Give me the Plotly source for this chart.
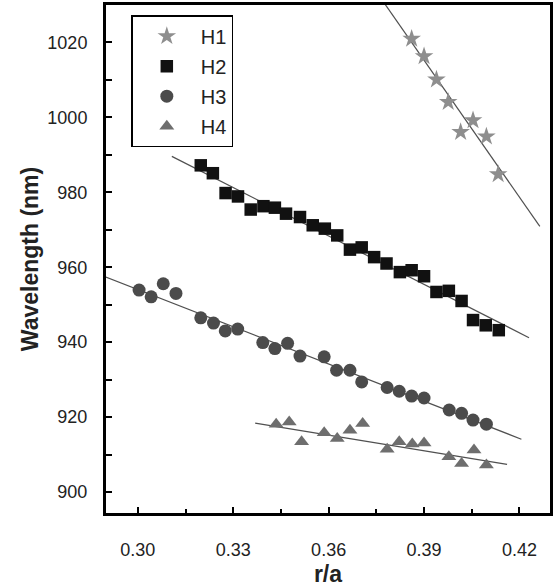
import plotly.graph_objects as go

# --- data ---
h1_x = [0.3861, 0.3900, 0.3939, 0.3976, 0.4015, 0.4054, 0.4096, 0.4133]
h1_y = [1021.0, 1016.3, 1010.1, 1004.1, 996.1, 999.2, 994.9, 984.8]

h2_x = [0.3198, 0.3236, 0.3276, 0.3315, 0.3355, 0.3395, 0.3431, 0.3466, 0.3510,
        0.3550, 0.3588, 0.3627, 0.3667, 0.3704, 0.3743, 0.3782, 0.3824, 0.3861,
        0.3900, 0.3939, 0.3978, 0.4018, 0.4054, 0.4094, 0.4135]
h2_y = [987.2, 985.1, 979.8, 978.9, 975.4, 976.3, 975.9, 974.3, 973.4,
        971.2, 970.3, 968.5, 964.7, 965.3, 962.7, 961.0, 958.7, 959.2,
        957.6, 953.4, 953.7, 951.0, 945.9, 944.5, 943.2]

h3_x = [0.3004, 0.3042, 0.3080, 0.3120, 0.3198, 0.3238, 0.3275, 0.3314, 0.3393,
        0.3431, 0.3471, 0.3510, 0.3586, 0.3625, 0.3667, 0.3704, 0.3784, 0.3822,
        0.3861, 0.3900, 0.3979, 0.4018, 0.4054, 0.4096]
h3_y = [953.9, 952.1, 955.6, 953.0, 946.5, 945.1, 943.0, 943.5, 939.9,
        938.3, 939.7, 936.3, 936.1, 932.5, 932.5, 929.4, 927.9, 926.9,
        925.6, 925.1, 921.9, 921.0, 919.2, 918.1]

h4_x = [0.3435, 0.3476, 0.3515, 0.3586, 0.3627, 0.3667, 0.3707, 0.3784,
        0.3822, 0.3863, 0.3900, 0.3978, 0.4018, 0.4057, 0.4096]
h4_y = [918.1, 918.7, 913.4, 915.8, 914.3, 916.5, 918.3, 911.4,
        913.4, 912.8, 913.1, 909.4, 907.6, 911.2, 907.2]

# linear fit lines (end points)
h1_fit_x = [0.3775, 0.4264]
h1_fit_y = [1030.5, 970.9]
h2_fit_x = [0.3107, 0.4230]
h2_fit_y = [989.6, 941.2]
h3_fit_x = [0.2898, 0.4206]
h3_fit_y = [957.4, 914.1]
h4_fit_x = [0.3369, 0.4161]
h4_fit_y = [918.4, 907.4]

x_ticks = [0.30, 0.33, 0.36, 0.39, 0.42]
x_ticklabels = ["0.30", "0.33", "0.36", "0.39", "0.42"]
y_ticks = [900, 920, 940, 960, 980, 1000, 1020]

FONT = "Arial, Liberation Sans, sans-serif"
LINE_COLOR = "#505050"

fig = go.Figure()

# fit lines first so markers sit on top
for fx, fy in [(h1_fit_x, h1_fit_y), (h2_fit_x, h2_fit_y),
               (h3_fit_x, h3_fit_y), (h4_fit_x, h4_fit_y)]:
    fig.add_trace(go.Scatter(
        x=fx, y=fy, mode="lines",
        line=dict(color=LINE_COLOR, width=1.2),
        showlegend=False, hoverinfo="skip"
    ))

series = [
    ("H1", h1_x, h1_y, "star", "#8e8e8e", 14),
    ("H2", h2_x, h2_y, "square", "#111111", 12.5),
    ("H3", h3_x, h3_y, "circle", "#4b4b4b", 13),
    ("H4", h4_x, h4_y, "triangle-up", "#6e6e6e", 13),
]
for name, xs, ys, sym, col, sz in series:
    fig.add_trace(go.Scatter(
        x=xs, y=ys, mode="markers", name=name,
        legendgroup=name,
        marker=dict(symbol=sym, color=col, size=sz, line=dict(width=0))
    ))

fig.update_layout(
    width=558, height=587,
    margin=dict(l=106, r=8, t=5, b=74),
    paper_bgcolor="white",
    plot_bgcolor="white",
    font=dict(family=FONT, color="#222222"),
    showlegend=True,
    legend=dict(
        x=0.057, y=0.98, xanchor="left", yanchor="top",
        bordercolor="black", borderwidth=1.5,
        bgcolor="white",
        font=dict(size=20, family=FONT, color="#222222"),
        itemwidth=58,
        tracegroupgap=1,
        traceorder="grouped",
    ),
)

fig.update_xaxes(
    range=[0.29, 0.4296],
    automargin=False,
    tickvals=x_ticks, ticktext=x_ticklabels,
    ticks="inside", ticklen=6, tickwidth=2, tickcolor="black",
    minor=dict(dtick=0.015, tick0=0.285, ticks="inside", ticklen=4, tickwidth=2, tickcolor="black"),
    showline=True, linecolor="black", linewidth=3, mirror=True,
    showgrid=False, zeroline=False,
    tickfont=dict(size=18, family=FONT, color="#222222"),
    ticklabelstandoff=18,
    title=dict(text="<b>r/a</b>", font=dict(size=23, family=FONT, color="#222222"), standoff=10),
)
fig.update_yaxes(
    range=[894.4, 1030],
    automargin=False,
    tickvals=y_ticks,
    ticks="inside", ticklen=6, tickwidth=2, tickcolor="black",
    minor=dict(dtick=10, tick0=890, ticks="inside", ticklen=6, tickwidth=2, tickcolor="black"),
    showline=True, linecolor="black", linewidth=3, mirror=True,
    showgrid=False, zeroline=False,
    tickfont=dict(size=18, family=FONT, color="#222222"),
    ticklabelstandoff=12,
    title=dict(text="<b>Wavelength (nm)</b>", font=dict(size=23, family=FONT, color="#222222"), standoff=3),
)

# drop the default page margin so the figure sits at the window's corner
fig.write_html(
    "out.html",
    config={"displayModeBar": False},
    post_script="document.body.style.margin='0';document.body.style.overflow='hidden';",
)
